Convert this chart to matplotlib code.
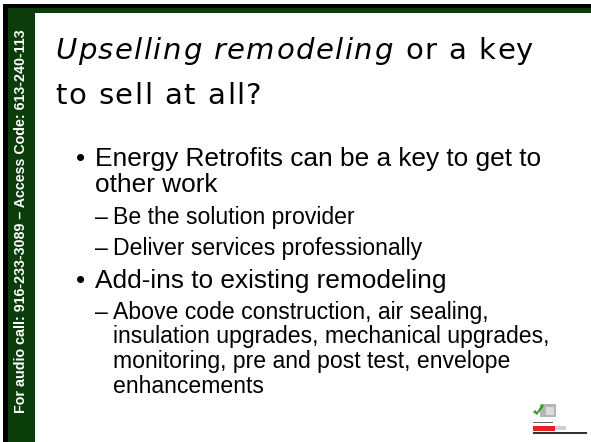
import matplotlib
matplotlib.use("Agg")
import matplotlib.pyplot as plt
from matplotlib.patches import Rectangle, Polygon

# Slide text content
side_note = "For audio call: 916-233-3089 \u2013 Access Code: 613-240-113"
title_italic = "Upselling remodeling"
title_rest = " or a key"
title_line2 = "to sell at all?"

# level 1 = bullet, 2 = dash sub-item, 3 = continuation of bullet, 4 = continuation of sub-item
bullet_levels = [1, 3, 2, 2, 1, 2, 4, 4, 4]
bullet_texts = [
    "Energy Retrofits can be a key to get to",
    "other work",
    "Be the solution provider",
    "Deliver services professionally",
    "Add-ins to existing remodeling",
    "Above code construction, air sealing,",
    "insulation upgrades, mechanical upgrades,",
    "monitoring, pre and post test, envelope",
    "enhancements",
]
bullet_rows = [166, 192, 224, 255, 288, 319, 343, 368, 393]

green = "#0b3d0b"
W, H = 591, 442

fig = plt.figure(figsize=(W / 100, H / 100), dpi=100)
ax = fig.add_axes([0, 0, 1, 1])
ax.set_xlim(0, W)
ax.set_ylim(H, 0)
ax.axis("off")
renderer = fig.canvas.get_renderer()


def text_width(s, **kw):
    t = ax.text(0, 0, s, **kw)
    w = t.get_window_extent(renderer).width
    t.remove()
    return w


# draw a string one glyph at a time with extra letter spacing
def tracked_text(x, y, s, track, **kw):
    for i, ch in enumerate(s):
        w = text_width(s[:i], **kw) if i > 0 else 0
        if ch != " ":
            ax.text(x + w + i * track, y, ch, va="baseline", ha="left", **kw)
    return x + text_width(s, **kw) + len(s) * track


# Frame: black edge and green band on top and left
ax.add_patch(Rectangle((3, 4), W - 3, 3.5, color="black", lw=0))
ax.add_patch(Rectangle((3, 4), 4.5, H - 4, color="black", lw=0))
ax.add_patch(Rectangle((7.5, 7.5), W - 7.5, 5, color=green, lw=0))
ax.add_patch(Rectangle((7.5, 7.5), 27, H - 7.5, color=green, lw=0))

# Vertical phone note
ax.text(21.5, 221, side_note, rotation=90, color="white", fontsize=10.3,
        fontweight="bold", family="Liberation Sans", ha="center", va="center")

# Title with wide letter spacing
tsize = 21
track = 1.5
x_end = tracked_text(55, 59, title_italic, track, fontsize=tsize,
                     style="italic", family="DejaVu Sans")
tracked_text(x_end, 59, title_rest, track, fontsize=tsize, family="DejaVu Sans")
tracked_text(55, 104, title_line2, track, fontsize=tsize, family="DejaVu Sans")

# Bullets
main_size = 18.9
sub_size = 16.6
for lvl, txt, y in zip(bullet_levels, bullet_texts, bullet_rows):
    if lvl == 1:
        ax.text(76, y, "\u2022", fontsize=main_size, family="Liberation Sans", va="baseline")
        ax.text(95, y, txt, fontsize=main_size, family="Liberation Sans", va="baseline")
    elif lvl == 2:
        ax.text(95, y, "\u2013", fontsize=sub_size, family="Liberation Sans", va="baseline")
        ax.text(113, y, txt, fontsize=sub_size, family="Liberation Sans", va="baseline")
    elif lvl == 3:
        ax.text(95, y, txt, fontsize=main_size, family="Liberation Sans", va="baseline")
    else:
        ax.text(113, y, txt, fontsize=sub_size, family="Liberation Sans", va="baseline")

# Small logo at bottom right
ax.add_patch(Rectangle((540, 404), 16, 13, color="#b5b5b5", lw=0))
ax.add_patch(Rectangle((546, 407), 8, 8, color="#dcdcdc", lw=0))
ax.add_patch(Polygon([(533, 412), (535, 410), (537, 412), (542, 404), (544, 406), (537, 415)],
                     closed=True, color="#3a9a2a", lw=0))
ax.add_patch(Rectangle((533, 422), 20, 1.2, color="#666666", lw=0))
ax.add_patch(Rectangle((533, 425.5), 22, 5, color="#e8202a", lw=0))
ax.add_patch(Rectangle((555, 426), 11, 4, color="#d0d0d0", lw=0))
ax.add_patch(Rectangle((533, 432), 54, 1.6, color="#333333", lw=0))

fig.savefig("out.png", dpi=100)
